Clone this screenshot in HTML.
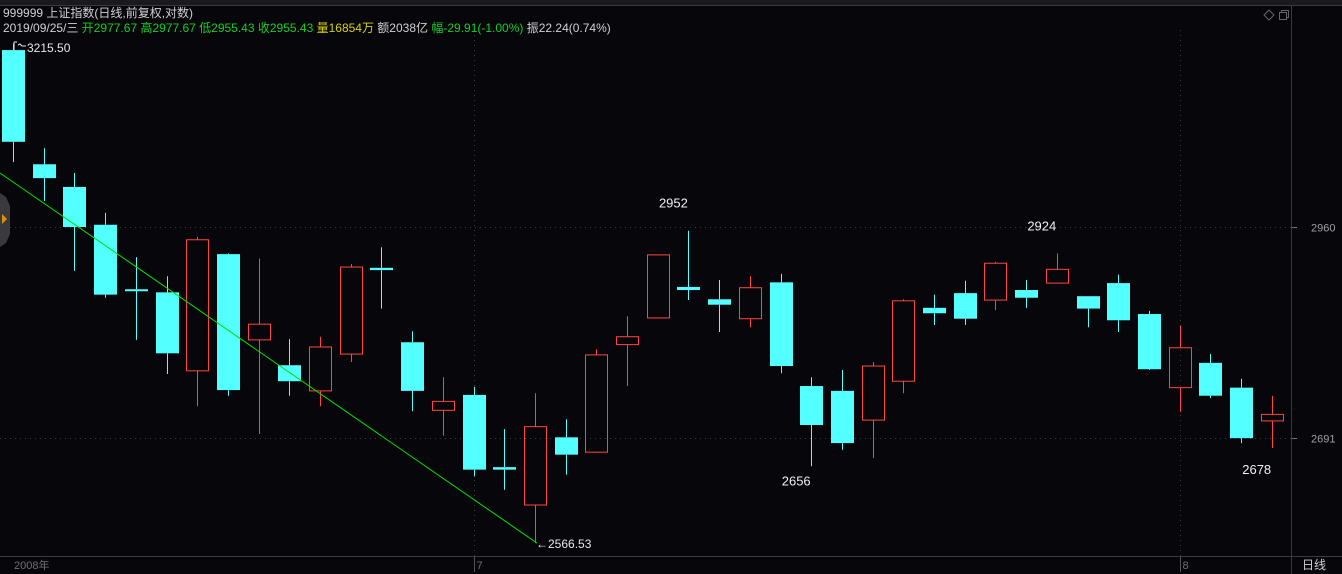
<!DOCTYPE html>
<html><head><meta charset="utf-8">
<style>
html,body{margin:0;padding:0;background:#07070b;width:1342px;height:574px;overflow:hidden;font-family:"Liberation Sans","Noto Sans CJK SC",sans-serif;}
#hdr{position:absolute;left:3px;top:6px;font-size:12px;color:#d0d0d0;line-height:15px;white-space:nowrap;}
.g{color:#10d020}.y{color:#d8d000}
svg{position:absolute;left:0;top:0;}
</style></head><body>
<svg id="chart" width="1342" height="574"></svg>
<div id="hdr">
<div>999999 上证指数(日线,前复权,对数)</div>
<div>2019/09/25/三 <span class="g">开2977.67 高2977.67 低2955.43 收2955.43</span> <span class="y">量16854万</span> 额2038亿 <span class="g">幅-29.91(-1.00%)</span> 振22.24(0.74%)</div>
</div>
<script>
const opens  =[3206,3045,3014,2963,2878,2874,2774,2924,2813,2781,2749,2795,2906,2810,2725,2744,2656,2611,2692,2674,2807,2841,2881,2865,2840,2887,2755,2749,2713,2761,2854,2873,2864,2877,2886,2869,2886,2846,2753,2784,2753,2712];
const highs  =[3215.5,3067,3033,2979,2920,2895,2947,2925,2918,2814,2817,2911,2933,2824,2766,2754,2702,2746,2714,2801,2843,2923,2955,2890,2895,2898,2766,2775,2785,2865,2871,2889,2914,2890,2925,2869,2897,2850,2831,2795,2764,2743];
const lows   =[3048,2995,2902,2867,2813,2770,2730,2743,2696,2743,2730,2785,2853,2724,2694,2645,2629,2566.53,2647,2674,2755,2841,2864,2823,2829,2771,2657,2677,2667,2746,2832,2832,2851,2854,2886,2829,2823,2775,2723,2740,2685,2679];
const closes =[3076,3026,2960,2871,2876,2796,2943,2750,2833,2761,2804,2907,2903,2749,2736,2653,2653,2705,2671,2794,2817,2923,2877,2858,2880,2780,2707,2685,2780,2863,2847,2840,2912,2867,2904,2853,2838,2776,2803,2743,2691,2720];
const yTicks=[2960,2691];
const annotations=[[22,"high","2952"],[34,"high","2924"],[26,"low","2656"],[41,"low","2678"]];
const xLabels=[[0,"2008年"],[15,"7"],[38,"8"]];

const NS="http://www.w3.org/2000/svg";
const svg=document.getElementById('chart');
const PW=1292;
function y(p){return 227-Math.log(p/2960)*2216;}
function x(i){return 13+i*30.7;}
function el(t,a,parent){const e=document.createElementNS(NS,t);for(const k in a)e.setAttribute(k,a[k]);(parent||svg).appendChild(e);return e;}

// frame
const topStrip=el('rect',{x:0,y:0,width:1342,height:5,fill:'#1a1a1e'});


el('line',{x1:0,y1:5.5,x2:1342,y2:5.5,stroke:'#3a3a3e'});
const axLine=el('line',{x1:1291.5,y1:5,x2:1291.5,y2:574,stroke:'#3a3a3e'});


el('line',{x1:0,y1:556.5,x2:1342,y2:556.5,stroke:'#3a3a3e'});
// grid
yTicks.forEach(v=>{
  const gy=Math.round(y(v))+0.5;
  const g=el('line',{x1:0,y1:gy,x2:PW,y2:gy,stroke:'#3a3a40','stroke-dasharray':'1,4'});
  
  
  el('line',{x1:PW,y1:gy,x2:PW+5,y2:gy,stroke:'#777'});
  const t=el('text',{x:1311,y:gy+4,fill:'#a0a0a0','font-size':11});
  t.textContent=v;
  
  
});
xLabels.forEach(([i,s])=>{
  const lx=i===0?14:Math.round(x(i))+0.5;
  if(i!==0){
    const v=el('line',{x1:lx,y1:30,x2:lx,y2:556,stroke:'#3a3a40','stroke-dasharray':'1,4'});
    
    
    el('line',{x1:lx,y1:557,x2:lx,y2:572,stroke:'#555'});
  }
  const t=el('text',{x:lx+(i===0?0:2),y:569,fill:'#707070','font-size':11});
  t.textContent=s;
  
  
});
const per=el('text',{x:1302,y:569,fill:'#d0d0d0','font-size':12});
per.textContent='日线';


// icons
const ic=el('g',{stroke:'#666',fill:'none'});


el('path',{d:'M1269 10 L1274 15 L1269 20 L1264 15 Z'},ic);
el('rect',{x:1279.5,y:12.5,width:7,height:7},ic);
el('path',{d:'M1281.5 12.5 V10.5 H1288.5 V17.5 H1286.5'},ic);
// left tab
const tab=el('path',{d:'M0 193 L6 197 L10 206 L10 234 L6 243 L0 247 Z',fill:'#3a3a3e'});


el('path',{d:'M2 214 L7 219 L2 224 Z',fill:'#e09000'});

// candles
for(let i=0;i<opens.length;i++){
  const o=opens[i],c=closes[i],h=highs[i],l=lows[i];
  const up=c>o;
  const col=up?'#ff4444':'#54ffff';
  const cx=Math.round(x(i))+0.5;
  const g=el('g',{});
  
  
  const bt=y(Math.max(o,c)),bb=y(Math.min(o,c));
  el('line',{x1:cx,y1:y(h),x2:cx,y2:bt,stroke:col},g);
  el('line',{x1:cx,y1:bb,x2:cx,y2:y(l),stroke:col},g);
  const hgt=Math.max(bb-bt,2);
  if(up) el('rect',{x:cx-11,y:bt,width:22,height:hgt,fill:'none',stroke:col,'stroke-width':1},g);
  else el('rect',{x:cx-11.5,y:bt,width:23,height:hgt,fill:col},g);
}
// trend line
const tl=el('line',{x1:0,y1:173,x2:537,y2:y(2566.53),stroke:'#00e000','stroke-width':1});


// extreme labels
const hi=el('text',{x:27,y:52,fill:'#e8e8e8','font-size':12});
hi.textContent='3215.50';


el('path',{d:'M14 42 V50 M14 42 H17 M18 45 L20 44 L22 46 L26 46',stroke:'#e8e8e8',fill:'none'});
const lo=el('text',{x:536,y:y(2566.53)+5,fill:'#e8e8e8','font-size':12});
lo.textContent='←2566.53';


annotations.forEach(([i,k,s])=>{
  const ty=k==='high'?y(highs[i])-23:y(lows[i])+(i===41?26:19);
  const t=el('text',{x:x(i)-15,y:ty,fill:'#f0f0f0','font-size':13,'text-anchor':'middle'});
  t.textContent=s;
  
  
});
</script>
</body></html>
